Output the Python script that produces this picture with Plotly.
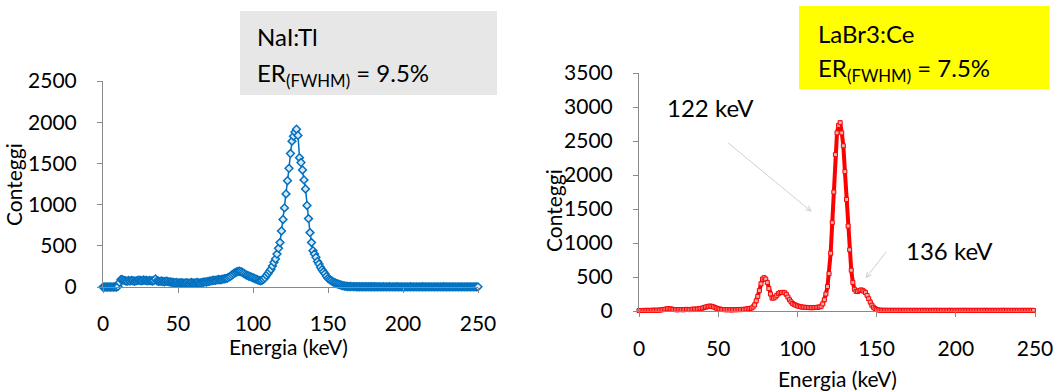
import plotly.graph_objects as go

# Channel energies (keV), 1 keV per channel
energy = list(range(0, 251))

# NaI:Tl spectrum (counts per channel)
nai_counts = [
    0, 0, 0, 0, 0, 0, 0, 0, 0, 0,
    8, 55, 90, 88, 80,
    75, 70, 78, 72, 80, 76, 70, 74, 80, 82, 78, 76, 84, 80, 78, 74,
    80, 76, 72, 78, 98, 74, 70, 68, 72, 66, 64, 70, 68, 62, 60,
    58, 55, 52, 56, 50, 48, 52, 50, 46, 48, 52, 44, 50, 54, 48, 46,
    52, 56, 50, 48, 54, 58, 62, 60, 66,
    70, 74, 78, 82, 80, 86, 90, 88, 92, 96, 100, 104, 110, 120, 130,
    145, 160, 172, 182, 188, 192, 186, 176, 164, 152,
    142, 134, 128, 120, 112, 104, 96, 88, 80, 76, 82,
    95, 112, 140, 165, 190, 215, 255, 300, 340, 400, 470, 540, 680, 820,
    960, 1130, 1290, 1440, 1620, 1770, 1830, 1880, 1915, 1840, 1570, 1510,
    1420, 1300, 1190, 990, 830, 660, 540, 440, 400, 360, 310, 280, 240,
    210, 185, 160, 130, 105, 90, 78, 66, 56, 48, 40, 34, 28, 22, 16, 12, 9, 7,
    6, 6, 5, 5, 5, 4, 4, 4, 4, 3, 3, 3, 3, 3, 3, 3, 3, 3, 3, 2,
    3, 2, 2, 3, 2, 2, 2, 3, 2, 2, 2, 2, 3, 2, 2, 2, 2, 2, 2, 2,
    2, 3, 2, 2, 2, 2, 2, 2, 2, 3, 2, 2, 2, 2, 2, 2, 2, 2, 2, 2,
    2, 2, 2, 3, 2, 2, 2, 2, 2, 2, 2, 2, 2, 2, 2, 2, 2, 2, 2, 2,
    2, 2, 2, 2, 2, 2, 2,
]

# LaBr3:Ce spectrum (counts per channel)
labr_counts = [
    6, 8, 7, 9, 8, 10, 9, 8, 10, 12, 11, 10, 12, 14, 16,
    20, 24, 28, 32, 34, 30, 26, 22,
    20, 18, 20, 22, 20, 18, 22, 24, 22, 20, 24, 26, 28, 26, 30, 34, 38, 42,
    50, 58, 64, 70, 72, 68, 60, 50, 40, 32,
    28, 24, 22, 20, 18, 20, 18, 16, 18, 20, 18, 20, 22, 20, 24, 22, 26, 28, 30, 36,
    44, 60, 90, 150, 215, 300, 400, 470, 490, 470, 420, 330, 250, 190, 190,
    205, 230, 255, 270, 272, 275, 268, 245, 205, 165, 135, 110, 95, 85, 75,
    68, 62, 58, 55, 54, 52, 50, 50, 48, 50, 52, 52, 55, 60, 70,
    105, 165, 250, 360, 550, 850, 1300, 1750, 2300, 2620, 2730, 2770,
    2620, 2430, 2050, 1640, 1250, 900, 600, 420, 320, 290, 285, 300,
    310, 305, 290, 270, 230, 180, 130, 85, 55, 35, 22, 15,
    12, 11, 10, 10, 10, 9, 10, 9, 9, 10, 9, 9, 10, 9, 9, 9, 10, 9, 9, 9,
    9, 9, 10, 9, 9, 9, 9, 9, 10, 9, 9, 9, 9, 9, 9, 10, 9, 9, 9, 9,
    9, 9, 9, 9, 10, 9, 9, 9, 9, 9, 9, 9, 9, 10, 9, 9, 9, 9, 9, 9,
    9, 9, 9, 9, 9, 9, 10, 9, 9, 9, 9, 9, 9, 9, 9, 9, 9, 9, 10, 9,
    9, 9, 9, 9, 9, 9, 9, 9, 9, 9, 9, 9, 9, 9, 9, 9, 9, 9,
]

x_ticks = [0, 50, 100, 150, 200, 250]
nai_y_ticks = [0, 500, 1000, 1500, 2000, 2500]
labr_y_ticks = [0, 500, 1000, 1500, 2000, 2500, 3000, 3500]

W, H = 1062, 391
FONT = "Lato"
AXIS_GREY = "#898989"


def fx(p):
    return p / W


def fy(p):
    return 1 - p / H


fig = go.Figure()

fig.add_trace(go.Scatter(
    x=energy, y=nai_counts, mode="lines+markers",
    line=dict(color="#0070C0", width=1.5),
    marker=dict(symbol="diamond", size=6, color="#dce8f4",
                line=dict(color="#0070C0", width=1.5)),
    cliponaxis=False, xaxis="x", yaxis="y", showlegend=False,
))

fig.add_trace(go.Scatter(
    x=energy, y=labr_counts, mode="lines+markers",
    line=dict(color="#FF0000", width=4),
    marker=dict(symbol="square", size=4, color="#e3b0b0",
                line=dict(color="#FF0000", width=1)),
    cliponaxis=False, xaxis="x2", yaxis="y2", showlegend=False,
))

axis_common = dict(
    showline=True, linecolor=AXIS_GREY, linewidth=1,
    ticks="outside", ticklen=5, tickcolor=AXIS_GREY, tickwidth=1,
    showgrid=False, zeroline=False, automargin=False,
    tickfont=dict(family=FONT, size=21, color="#000000"),
)

fig.update_layout(
    width=W, height=H,
    margin=dict(l=0, r=0, t=0, b=0, autoexpand=False),
    paper_bgcolor="#ffffff", plot_bgcolor="rgba(0,0,0,0)",
    xaxis=dict(domain=[fx(103), fx(478)], range=[0, 250], tickvals=x_ticks,
               anchor="y", ticklabelstandoff=13, **axis_common),
    yaxis=dict(domain=[fy(287), fy(81)], range=[0, 2500], tickvals=nai_y_ticks,
               anchor="x", ticklabelstandoff=16, **axis_common),
    xaxis2=dict(domain=[fx(639), fx(1035)], range=[0, 250], tickvals=x_ticks,
                anchor="y2", ticklabelstandoff=14, **axis_common),
    yaxis2=dict(domain=[fy(311), fy(73)], range=[0, 3500], tickvals=labr_y_ticks,
                anchor="x2", ticklabelstandoff=16, **axis_common),
)

# Label boxes
fig.add_shape(type="rect", xref="paper", yref="paper",
              x0=fx(240), x1=fx(497), y0=fy(95), y1=fy(11),
              fillcolor="#e7e7e7", line=dict(width=0), layer="below")
fig.add_shape(type="rect", xref="paper", yref="paper",
              x0=fx(799), x1=fx(1049), y0=fy(89), y1=fy(6),
              fillcolor="#ffff00", line=dict(width=0), layer="below")

txt = dict(family=FONT, size=24, color="#000000")


def label(x, y, text, **kw):
    fig.add_annotation(xref="paper", yref="paper", x=fx(x), y=fy(y), text=text,
                       showarrow=False, font=txt, **kw)


label(255, 37, "NaI:Tl", xanchor="left", yanchor="middle")
label(255, 74, "ER<sub>(FWHM)</sub> = 9.5%", xanchor="left", yanchor="middle")
label(816, 34, "LaBr3:Ce", xanchor="left", yanchor="middle")
label(816, 70, "ER<sub>(FWHM)</sub> = 7.5%", xanchor="left", yanchor="middle")

# Peak labels and their arrows
label(710, 108, "122 keV", xanchor="center", yanchor="middle")
label(949, 250, "136 keV", xanchor="center", yanchor="middle")
fig.add_annotation(xref="x2", yref="y2", x=109, y=1460, ax=-85, ay=-70, text="",
                   showarrow=True, arrowhead=5, arrowsize=1, arrowwidth=1,
                   arrowcolor="#d0d0d0")
fig.add_annotation(xref="x2", yref="y2", x=143, y=481, ax=22, ay=-28, text="",
                   showarrow=True, arrowhead=5, arrowsize=1, arrowwidth=1,
                   arrowcolor="#d0d0d0")

# Axis titles
title_font = dict(family=FONT, size=21, color="#000000")
for x, y, text, angle in [
    (288, 346, "Energia (keV)", 0),
    (837, 378, "Energia (keV)", 0),
    (13, 185, "Conteggi", -90),
    (554, 211, "Conteggi", -90),
]:
    fig.add_annotation(xref="paper", yref="paper", x=fx(x), y=fy(y), text=text,
                       showarrow=False, font=title_font, textangle=angle,
                       xanchor="center", yanchor="middle")

fig.write_html("out.html")
